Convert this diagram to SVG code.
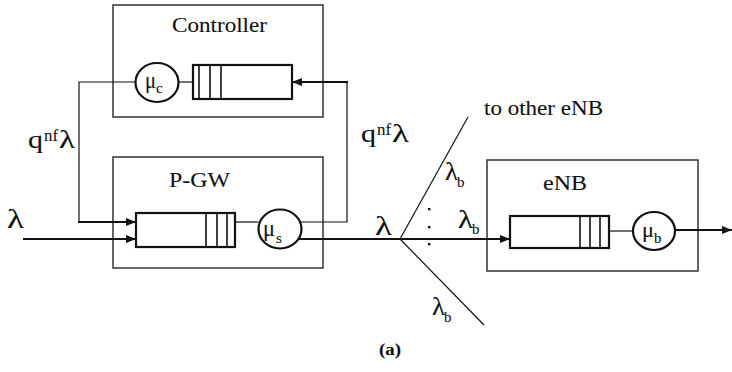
<svg xmlns="http://www.w3.org/2000/svg" width="732" height="372" viewBox="0 0 732 372">
<defs>
<style>
.box{fill:none;stroke:#333;stroke-width:1.5}
.q{fill:#fff;stroke:#111;stroke-width:2.2}
.qv{stroke:#111;stroke-width:1.6}
.srv{fill:#fff;stroke:#111;stroke-width:2.2}
.thin{fill:none;stroke:#111;stroke-width:1.2}
.thick{fill:none;stroke:#111;stroke-width:2.2}
text{stroke:#111;stroke-width:0.1}
</style>
<marker id="ah" markerUnits="userSpaceOnUse" markerWidth="10" markerHeight="8" refX="10" refY="4" orient="auto">
<path d="M0,0 L10,4 L0,8 z" fill="#111" stroke="none"/>
</marker>
</defs>
<rect width="732" height="372" fill="#fff"/>

<g font-family="Liberation Serif, serif" fill="#111">
<g id="controller">
<rect class="box" x="113" y="5" width="210" height="112"/>
<text x="172" y="32" font-size="22" textLength="95" lengthAdjust="spacingAndGlyphs">Controller</text>
<rect class="q" x="193" y="65" width="99" height="34"/>
<line class="qv" x1="199" y1="65" x2="199" y2="99"/>
<line class="qv" x1="210" y1="65" x2="210" y2="99"/>
<line class="qv" x1="221" y1="65" x2="221" y2="99"/>
<ellipse class="srv" cx="157" cy="82.5" rx="21.5" ry="19.5"/>
<text x="145" y="88" font-size="23" textLength="11" lengthAdjust="spacingAndGlyphs">μ</text>
<text x="156" y="93" font-size="15">c</text>
</g>

<g id="pgw">
<rect class="box" x="113" y="157" width="210" height="111"/>
<text x="169" y="187" font-size="21" textLength="61" lengthAdjust="spacingAndGlyphs">P-GW</text>
<rect class="q" x="136" y="213" width="99" height="34"/>
<line class="qv" x1="206" y1="213" x2="206" y2="247"/>
<line class="qv" x1="217" y1="213" x2="217" y2="247"/>
<line class="qv" x1="227" y1="213" x2="227" y2="247"/>
<ellipse class="srv" cx="280" cy="229" rx="21.5" ry="19.5"/>
<text x="263" y="236" font-size="23" textLength="12" lengthAdjust="spacingAndGlyphs">μ</text>
<text x="276" y="243" font-size="15">s</text>
</g>

<g id="enb">
<rect class="box" x="487" y="160" width="211" height="111"/>
<text x="543" y="190" font-size="21" textLength="44" lengthAdjust="spacingAndGlyphs">eNB</text>
<rect class="q" x="510" y="216" width="99" height="32"/>
<line class="qv" x1="580" y1="216" x2="580" y2="248"/>
<line class="qv" x1="590" y1="216" x2="590" y2="248"/>
<line class="qv" x1="600" y1="216" x2="600" y2="248"/>
<ellipse class="srv" cx="654" cy="231" rx="21" ry="19"/>
<text x="642" y="237" font-size="22" textLength="12" lengthAdjust="spacingAndGlyphs">μ</text>
<text x="654" y="243" font-size="15">b</text>
</g>

<g id="connectors">
<line class="thin" x1="178.5" y1="82" x2="193" y2="82"/>
<polyline class="thin" points="135.5,82 79,82 79,222"/>
<line class="thick" x1="78" y1="222" x2="136" y2="222" marker-end="url(#ah)"/>
<line class="thick" x1="23" y1="239" x2="136" y2="239" marker-end="url(#ah)"/>
<line class="thin" x1="235" y1="222" x2="258.5" y2="222"/>
<polyline class="thin" points="300,222 347,222 347,82"/>
<line class="thick" x1="348" y1="82" x2="292" y2="82" marker-end="url(#ah)"/>
<line class="thick" x1="299" y1="239" x2="400" y2="239"/>
<line class="thin" x1="400" y1="239" x2="468" y2="117"/>
<line class="thin" x1="400" y1="239" x2="484" y2="325"/>
<line class="thick" x1="400" y1="239" x2="510" y2="239" marker-end="url(#ah)"/>
<line class="thin" x1="609" y1="231" x2="633" y2="231"/>
<line class="thick" x1="675" y1="230" x2="732" y2="230" marker-end="url(#ah)"/>
<rect x="428" y="208" width="2.4" height="2.4" fill="#111"/>
<rect x="428" y="226" width="2.4" height="2.4" fill="#111"/>
<rect x="428" y="243" width="2.4" height="2.4" fill="#111"/>
</g>

<g id="labels">
<text x="28" y="148" font-size="25" textLength="15" lengthAdjust="spacingAndGlyphs">q</text>
<text x="44" y="141" font-size="16" textLength="14" lengthAdjust="spacingAndGlyphs">nf</text>
<text x="59" y="148" font-size="25" textLength="16" lengthAdjust="spacingAndGlyphs">λ</text>

<text x="361" y="142" font-size="25" textLength="15" lengthAdjust="spacingAndGlyphs">q</text>
<text x="377" y="135" font-size="16" textLength="14" lengthAdjust="spacingAndGlyphs">nf</text>
<text x="392" y="142" font-size="25" textLength="17" lengthAdjust="spacingAndGlyphs">λ</text>

<text x="7" y="228" font-size="27" textLength="17" lengthAdjust="spacingAndGlyphs">λ</text>
<text x="375" y="235" font-size="27" textLength="17" lengthAdjust="spacingAndGlyphs">λ</text>

<text x="484" y="115" font-size="21" textLength="119" lengthAdjust="spacingAndGlyphs">to other eNB</text>

<text x="445" y="180" font-size="25" textLength="13" lengthAdjust="spacingAndGlyphs">λ</text>
<text x="457" y="187" font-size="15">b</text>
<text x="458" y="228" font-size="25" textLength="15" lengthAdjust="spacingAndGlyphs">λ</text>
<text x="472" y="234" font-size="15">b</text>
<text x="432" y="315" font-size="25" textLength="13" lengthAdjust="spacingAndGlyphs">λ</text>
<text x="444" y="322" font-size="15">b</text>

<text x="379" y="355" font-size="16" font-weight="bold" textLength="22" lengthAdjust="spacingAndGlyphs">(a)</text>
</g>
</g>
</svg>
